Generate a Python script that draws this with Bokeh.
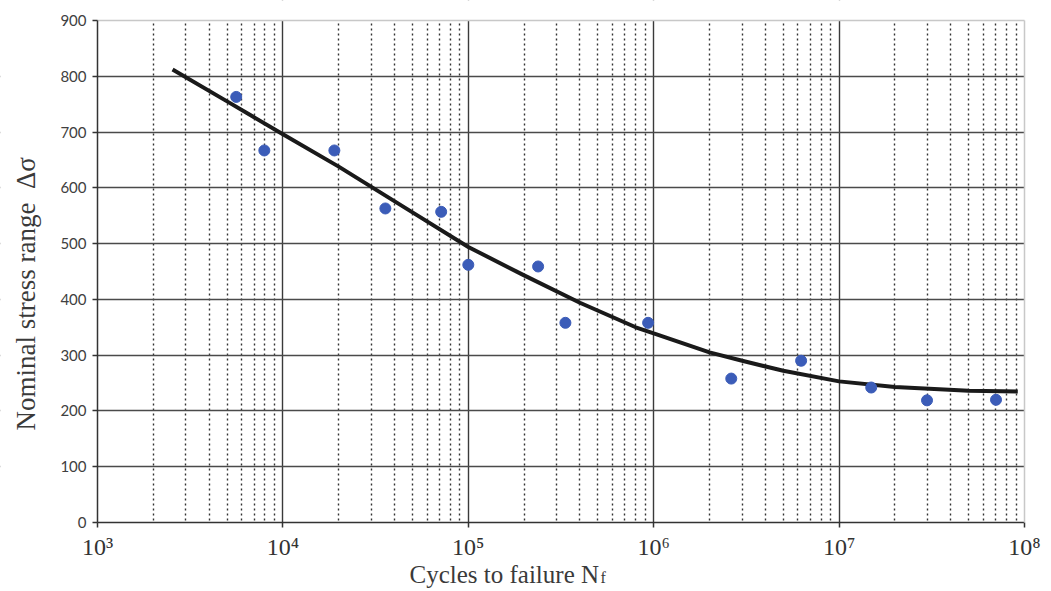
import math
from bokeh.plotting import figure
from bokeh.models import (FixedTicker, Range1d, Label, BoxAnnotation,
                          LinearAxis, LogAxis)
from bokeh.embed import file_html
from bokeh.resources import INLINE

# ---- data ----
test_cycles = [5600, 7940, 18950, 35700, 71400, 100000, 238000, 334000,
               933000, 2.62e6, 6.24e6, 1.49e7, 2.98e7, 7.02e7]
test_stress = [763, 667, 667, 563, 557, 462, 459, 358, 358, 258, 290, 242, 219, 220]

curve_cycles = [2540, 5000, 1e4, 2e4, 5e4, 1e5, 2e5, 4e5, 8e5, 1e6,
                2e6, 3e6, 5e6, 1e7, 2e7, 5e7, 9.2e7]
curve_stress = [812, 755, 696, 638, 556, 494, 443, 394, 350, 339,
                305, 290, 272, 253, 243, 236, 235]

x_ticks = [1e3, 1e4, 1e5, 1e6, 1e7, 1e8]
x_tick_labels = ["10\u00b3", "10\u2074", "10\u2075", "10\u2076", "10\u2077", "10\u2078"]
y_ticks = [0, 100, 200, 300, 400, 500, 600, 700, 800, 900]
y_tick_labels = ["0", "100", "200", "300", "400", "500", "600", "700", "800", "900"]

x_label_main = "Cycles to failure N"
x_label_sub = "f"
y_label = "Nominal stress range\u00a0 \u0394\u03c3"

# ---- layout: the frame covers the whole canvas; axes sit at fixed locations ----
W, H = 1050, 590
PX_LEFT, PX_RIGHT = 97, 1024      # pixel of 10^3 and 10^8
PX_TOP, PX_ZERO = 20, 522         # pixel of 900 and 0
dec = (PX_RIGHT - PX_LEFT) / 5.0
ppu = (PX_ZERO - PX_TOP) / 900.0
x_lo = 10 ** (3 - PX_LEFT / dec)
x_hi = 10 ** (8 + (W - PX_RIGHT) / dec)
y_hi = 900 + PX_TOP / ppu
y_lo = -(H - PX_ZERO) / ppu

p = figure(x_axis_type="log", output_backend="svg", toolbar_location=None,
           frame_width=W, frame_height=H, min_border=0,
           x_range=Range1d(x_lo, x_hi), y_range=Range1d(y_lo, y_hi))
p.background_fill_color = "white"
p.border_fill_color = "white"
p.outline_line_color = None

# x axis at stress 0
p.xaxis.fixed_location = 0
p.xaxis.bounds = (x_ticks[0], x_ticks[-1])
p.xaxis.ticker = FixedTicker(ticks=x_ticks)
p.xaxis.major_label_overrides = {t: l for t, l in zip(x_ticks, x_tick_labels)}
p.xaxis.major_label_text_font = "Liberation Serif"
p.xaxis.major_label_text_font_size = "24px"
p.xaxis.major_label_text_color = "#333333"
p.xaxis.major_label_standoff = 6
p.xaxis.major_tick_out = 5
p.xaxis.major_tick_in = 0
p.xaxis.minor_tick_line_color = None
p.xaxis.axis_line_color = "#333333"
p.xaxis.axis_line_width = 1.5
p.xaxis.major_tick_line_color = "#333333"
p.xaxis.major_tick_line_width = 1.5

# y axis at 10^3
p.yaxis.fixed_location = x_ticks[0]
p.yaxis.bounds = (0, 900)
p.yaxis.ticker = FixedTicker(ticks=y_ticks)
p.yaxis.major_label_overrides = {t: l for t, l in zip(y_ticks, y_tick_labels)}
p.yaxis.major_label_text_font = "Lato"
p.yaxis.major_label_text_font_size = "15px"
p.yaxis.major_label_text_color = "#404040"
p.yaxis.major_label_standoff = 6
p.yaxis.major_tick_out = 5
p.yaxis.major_tick_in = 0
p.yaxis.minor_tick_line_color = None
p.yaxis.axis_line_color = "#333333"
p.yaxis.axis_line_width = 1.5
p.yaxis.major_tick_line_color = "#333333"
p.yaxis.major_tick_line_width = 1.5

# grids
minor_x = [k * 10 ** d for d in range(3, 8) for k in range(2, 10)]
p.xgrid.ticker = FixedTicker(ticks=x_ticks[1:-1], minor_ticks=minor_x)
p.xgrid.grid_line_color = "#3a3a3a"
p.xgrid.grid_line_width = 1.4
p.xgrid.minor_grid_line_color = "#333333"
p.xgrid.minor_grid_line_width = 1.4
p.xgrid.minor_grid_line_dash = "2 3"
p.ygrid.ticker = FixedTicker(ticks=y_ticks[1:-1])
p.ygrid.grid_line_color = "#4a4a4a"
p.ygrid.grid_line_width = 1.6

# blank out grid lines outside the plotting area
for kw in (dict(top=0), dict(bottom=900), dict(right=x_ticks[0]), dict(left=x_ticks[-1])):
    p.add_layout(BoxAnnotation(fill_color="white", fill_alpha=1.0, line_color=None,
                               level="underlay", **kw))

# light border at 900 and at 10^8
top_border = LogAxis(fixed_location=900, bounds=(x_ticks[0], x_ticks[-1]),
                     ticker=FixedTicker(ticks=[]), axis_line_color="#c8c8c8",
                     axis_line_width=1.5, major_tick_line_color=None,
                     minor_tick_line_color=None, major_label_text_color=None)
p.add_layout(top_border, "above")
right_border = LinearAxis(fixed_location=x_ticks[-1], bounds=(0, 900),
                          ticker=FixedTicker(ticks=[]), axis_line_color="#c8c8c8",
                          axis_line_width=1.5, major_tick_line_color=None,
                          minor_tick_line_color=None, major_label_text_color=None)
p.add_layout(right_border, "right")

# fitted curve and test points
p.line(curve_cycles, curve_stress, line_color="#1a1a1a", line_width=4)
p.scatter(test_cycles, test_stress, size=11, fill_color="#3b5cb8", line_color="#3b5cb8")

# axis titles
p.add_layout(Label(x=409, y=-93, x_units="screen", y_units="data", text=x_label_main,
                   text_font="Liberation Serif", text_font_size="25px",
                   text_color="#3a3a3a", text_align="left", text_baseline="alphabetic"))
p.add_layout(Label(x=600, y=-99, x_units="screen", y_units="data", text=x_label_sub,
                   text_font="Liberation Serif", text_font_size="16px",
                   text_color="#3a3a3a", text_align="left", text_baseline="alphabetic"))
p.add_layout(Label(x=25, y=410, x_units="screen", y_units="data", text=y_label,
                   angle=math.pi / 2, text_font="Liberation Serif", text_font_size="27px",
                   text_color="#3a3a3a", text_align="center", text_baseline="middle"))

open("out.html", "w").write(file_html(p, INLINE))
